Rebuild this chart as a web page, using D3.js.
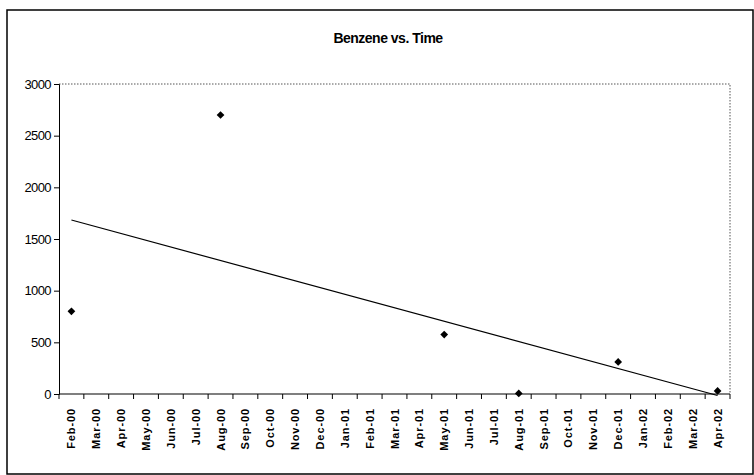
<!DOCTYPE html>
<html>
<head>
<meta charset="utf-8">
<script src="https://cdn.jsdelivr.net/npm/d3@7"></script>
<style>
  html, body { margin: 0; padding: 0; background: #fff; }
  svg { display: block; font-family: Arial, "Liberation Sans", sans-serif; }
</style>
</head>
<body>
<svg id="chart" width="754" height="475"></svg>
<script>
// ---- data ----
const months = ["Feb-00","Mar-00","Apr-00","May-00","Jun-00","Jul-00","Aug-00","Sep-00","Oct-00","Nov-00","Dec-00","Jan-01","Feb-01","Mar-01","Apr-01","May-01","Jun-01","Jul-01","Aug-01","Sep-01","Oct-01","Nov-01","Dec-01","Jan-02","Feb-02","Mar-02","Apr-02"];
const sampleMonths = ["Feb-00","Aug-00","May-01","Aug-01","Dec-01","Apr-02"];
const benzene = [800, 2700, 575, 5, 310, 30];
const yTicks = [0, 500, 1000, 1500, 2000, 2500, 3000];
const title = "Benzene vs. Time";

// ---- layout ----
const svg = d3.select("#chart");
const plot = { left: 59, right: 730, top: 84, bottom: 394 };

// outer chart border
svg.append("rect")
  .attr("x", 7).attr("y", 10).attr("width", 746).attr("height", 464)
  .attr("fill", "none").attr("stroke", "#000").attr("stroke-width", 1.5);

const x = d3.scaleBand().domain(months).range([plot.left, plot.right]).padding(0);
const y = d3.scaleLinear().domain([0, 3000]).range([plot.bottom, plot.top]);
const cx = m => x(m) + x.bandwidth() / 2;

// plot area border (dotted top & right)
svg.append("path")
  .attr("d", `M${plot.left},${plot.top}H${plot.right}V${plot.bottom}`)
  .attr("fill", "none").attr("stroke", "#555").attr("stroke-width", 1)
  .attr("stroke-dasharray", "1.5,1.5");

// title
svg.append("text")
  .attr("x", 388).attr("y", 43)
  .attr("text-anchor", "middle")
  .attr("font-size", 14).attr("font-weight", "bold")
  .attr("letter-spacing", -0.5)
  .text(title);

// y axis
const yAxis = svg.append("g")
  .attr("transform", `translate(${plot.left},0)`)
  .call(d3.axisLeft(y).tickValues(yTicks).tickSize(5).tickPadding(3).tickFormat(d3.format("d")));
yAxis.select(".domain").attr("stroke", "#000");
yAxis.selectAll("text").attr("font-size", 13).attr("letter-spacing", -0.6).attr("fill", "#000")
  .attr("font-family", "Arial, 'Liberation Sans', sans-serif");

// x axis: ticks at category boundaries
const xAxisG = svg.append("g").attr("transform", `translate(0,${plot.bottom})`);
xAxisG.append("line")
  .attr("x1", plot.left).attr("x2", plot.right)
  .attr("stroke", "#000").attr("stroke-width", 1.2);
const boundaries = months.map(m => x(m)).concat([x(months[months.length - 1]) + x.bandwidth()]);
xAxisG.selectAll("line.tick").data(boundaries).enter().append("line")
  .attr("class", "tick")
  .attr("x1", d => d).attr("x2", d => d)
  .attr("y1", 0).attr("y2", 5)
  .attr("stroke", "#000");
xAxisG.selectAll("text").data(months).enter().append("text")
  .attr("transform", d => `translate(${cx(d) + 4},14) rotate(-90)`)
  .attr("text-anchor", "end")
  .attr("font-size", 11).attr("font-weight", "bold")
  .attr("letter-spacing", 0.9)
  .text(d => d);

// linear trendline (least squares over month index)
const xi = sampleMonths.map(m => months.indexOf(m));
const mx = d3.mean(xi), my = d3.mean(benzene);
const slope = d3.sum(xi, (v, i) => (v - mx) * (benzene[i] - my)) / d3.sum(xi, v => (v - mx) ** 2);
const intercept = my - slope * mx;
const first = 0, last = months.length - 1;
svg.append("line")
  .attr("x1", cx(months[first])).attr("y1", y(intercept + slope * first))
  .attr("x2", cx(months[last])).attr("y2", y(intercept + slope * last))
  .attr("stroke", "#000").attr("stroke-width", 1.2);

// markers (square diamonds)
svg.selectAll("path.pt").data(sampleMonths).enter().append("path")
  .attr("class", "pt")
  .attr("d", d3.symbol().type(d3.symbolSquare).size(30))
  .attr("transform", (d, i) => `translate(${cx(d)},${y(benzene[i])}) rotate(45)`)
  .attr("fill", "#000");
</script>
</body>
</html>
